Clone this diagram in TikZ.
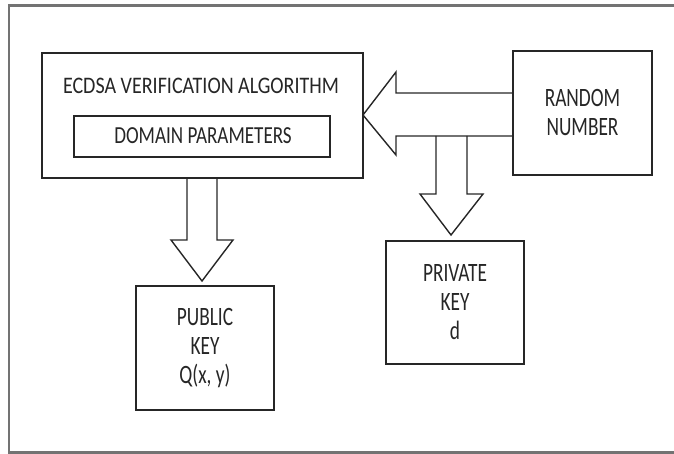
\documentclass[tikz,border=0pt]{standalone}
\usepackage{fontspec}
\newfontfamily\titlefont{Carlito}[FakeStretch=0.845]
\newfontfamily\domfont{Carlito}[FakeStretch=0.78]
\newfontfamily\boxfont{Carlito}[FakeStretch=0.73]
\usetikzlibrary{calc}
\tikzset{
  lbl/.style={font=\boxfont\fontsize{26.5}{29}\selectfont, text=black!85, align=center, inner sep=0pt},
  ttl/.style={font=\titlefont\fontsize{23.7}{28}\selectfont, text=black!85, inner sep=0pt},
  dlbl/.style={font=\domfont\fontsize{24.5}{28}\selectfont, text=black!85, inner sep=0pt},
  boxn/.style={draw=black!85, line width=1.6pt, fill=none, inner sep=0pt},
  blk/.style={draw=black!85, line width=1.4pt, line join=miter},
  frame/.style={draw=black!55, line width=2.6pt}
}
\begin{document}
\begin{tikzpicture}[x=1pt,y=-1pt]
\useasboundingbox (0,0) rectangle (674,454);
% outer frame (open at right)
\draw[frame] (680,5.5) -- (9,5.5) -- (9,452.5) -- (680,452.5);
% boxes
\node[boxn, minimum width=321pt, minimum height=125pt] (main) at (202.5,115.5) {};
\node[ttl] (title) at (201,86) {ECDSA VERIFICATION ALGORITHM};
\node[boxn, minimum width=256pt, minimum height=41pt] (dom) at (202,136.5) {};
\node[dlbl] (domt) at (203,136) {DOMAIN PARAMETERS};
\node[boxn, minimum width=139pt, minimum height=124pt, lbl] (rnd) at (582.5,113) {RANDOM\\NUMBER};
\node[boxn, minimum width=138pt, minimum height=124pt, lbl] (pub) at (205,348) {PUBLIC\\KEY\\Q(x, y)};
\node[boxn, minimum width=138pt, minimum height=123pt, lbl] (prv) at (455,302.5) {PRIVATE\\KEY\\d};
% tips
\coordinate (tipL) at (363,115);
\coordinate (tipP) at (202,281);
\coordinate (tipV) at (451,235);
% block arrow from random number to algorithm
\draw[blk] (rnd.west |- 0,93) -- (396,93) -- (396,72) -- (tipL) -- (396,155) -- (396,136) -- (rnd.west |- 0,136);
% block arrow down to private key
\draw[blk] (436,136) -- (436,194) -- (420,194) -- (tipV) -- (483,194) -- (467,194) -- (467,136);
% block arrow down to public key
\draw[blk] (main.south -| 187,0) -- (187,240) -- (171,240) -- (tipP) -- (233,240) -- (217,240) -- (main.south -| 217,0);
\end{tikzpicture}
\end{document}
